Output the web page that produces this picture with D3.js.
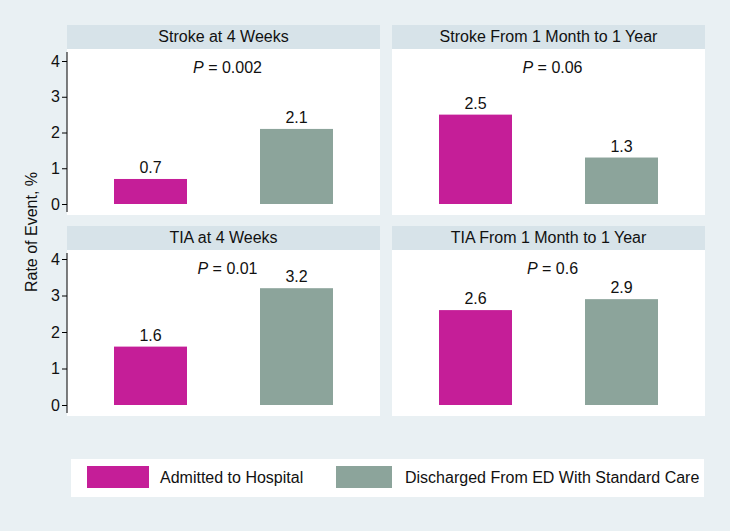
<!DOCTYPE html>
<html><head><meta charset="utf-8">
<script src="https://cdn.jsdelivr.net/npm/d3@7"></script>
<style>body{margin:0;background:#E9F0F3;}svg{display:block;font-family:"Liberation Sans",Arial,sans-serif;}</style>
</head><body>
<script>
const panels = ["Stroke at 4 Weeks","Stroke From 1 Month to 1 Year","TIA at 4 Weeks","TIA From 1 Month to 1 Year"];
const pValues = ["0.002","0.06","0.01","0.6"];
const series = ["Admitted to Hospital","Discharged From ED With Standard Care"];
const admitted = [0.7,2.5,1.6,2.6];
const discharged = [2.1,1.3,3.2,2.9];
const yTicks = [0,1,2,3,4];
const colors = ["#C51E98","#8CA49B"];

const W=730,H=531,FS=16;
const svg=d3.select("body").append("svg").attr("width",W).attr("height",H);
svg.append("rect").attr("width",W).attr("height",H).attr("fill","#E9F0F3");

const cols=[{x0:67,x1:380},{x0:392,x1:705}];
const rows=[{h0:25,h1:49,p1:215,y0:204,y4:61},{h0:226,h1:250,p1:416,y0:405,y4:259}];

panels.forEach((title,i)=>{
  const c=cols[i%2], r=rows[Math.floor(i/2)];
  const g=svg.append("g");
  g.append("rect").attr("x",c.x0).attr("y",r.h0).attr("width",c.x1-c.x0).attr("height",r.h1-r.h0).attr("fill","#D7E3E9");
  g.append("text").attr("x",(c.x0+c.x1)/2).attr("y",r.h0+16.5).attr("text-anchor","middle").attr("font-size",FS).attr("fill","#111").text(title);
  g.append("rect").attr("x",c.x0).attr("y",r.h1).attr("width",c.x1-c.x0).attr("height",r.p1-r.h1).attr("fill","#fff");
  const y=d3.scaleLinear().domain([0,4]).range([r.y0,r.y4]);
  const xs=d3.scalePoint().domain(series).range([c.x0+83.5,c.x0+229.5]);
  const bw=73;
  const vals=[admitted[i],discharged[i]];
  series.forEach((s,k)=>{
    const xc=xs(s);
    g.append("rect").attr("x",xc-bw/2).attr("y",y(vals[k])).attr("width",bw).attr("height",y(0)-y(vals[k])).attr("fill",colors[k]);
    g.append("text").attr("x",xc).attr("y",y(vals[k])-6).attr("text-anchor","middle").attr("font-size",FS).attr("fill","#111").text(vals[k].toFixed(1));
  });
  const pt=g.append("text").attr("x",(c.x0+c.x1)/2+4).attr("y",r.h1+24).attr("text-anchor","middle").attr("font-size",FS).attr("fill","#111");
  pt.append("tspan").attr("font-style","italic").text("P");
  pt.append("tspan").text(" = "+pValues[i]);
  if(i%2===0){
    const ax=g.append("g").attr("transform",`translate(${c.x0},0)`).call(d3.axisLeft(y).tickValues(yTicks).tickSize(5).tickPadding(2).tickFormat(d3.format("d")));
    ax.select(".domain").attr("d",`M0,${r.h1+3}V${r.p1-3}`).attr("stroke","#000");
    ax.selectAll(".tick line").attr("stroke","#000");
    ax.selectAll("text").attr("font-size",FS).attr("font-family","Liberation Sans, Arial, sans-serif").attr("fill","#111");
  }
});

svg.append("text").attr("transform","translate(37,232) rotate(-90)").attr("text-anchor","middle").attr("font-size",FS).attr("fill","#111").text("Rate of Event, %");

// legend
const lg=svg.append("g");
lg.append("rect").attr("x",71).attr("y",459).attr("width",633).attr("height",38).attr("fill","#fff");
const lx=[87,336];
series.forEach((s,k)=>{
  lg.append("rect").attr("x",lx[k]).attr("y",466).attr("width",k?56:62).attr("height",22).attr("fill",colors[k]);
  lg.append("text").attr("x",lx[k]+(k?69:73)).attr("y",483).attr("font-size",FS).attr("fill","#111").text(s);
});
</script>
</body></html>
